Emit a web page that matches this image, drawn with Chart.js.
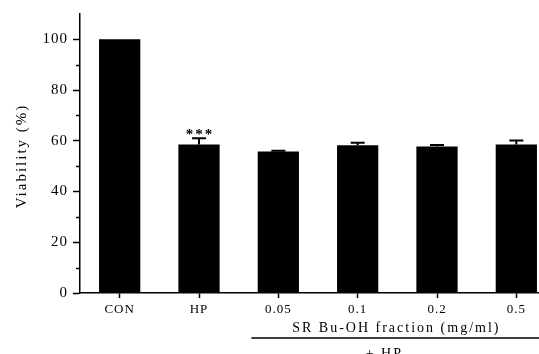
<!DOCTYPE html>
<html>
<head>
<meta charset="utf-8">
<script src="https://cdn.jsdelivr.net/npm/chart.js@4"></script>
<style>
  html, body { margin: 0; padding: 0; background: #fff; overflow: hidden; }
  #wrap { width: 539px; height: 354px; overflow: hidden; }
</style>
</head>
<body>
<div id="wrap"><canvas id="viability" width="560" height="354"></canvas></div>
<script>
// values
var categories = ['CON', 'HP', '0.05', '0.1', '0.2', '0.5'];
var viability = [100, 58.5, 55.8, 58.3, 57.8, 58.5];
var errors = [0, 2.5, 0.3, 0.9, 0.6, 1.6];
var yMajor = [0, 20, 40, 60, 80, 100];
var yMinor = [10, 30, 50, 70, 90];

var serif = '"Liberation Serif", "DejaVu Serif", serif';

// slightly spaced lettering like the scanned figure
var spacing = {
    id: 'spacing',
    beforeDraw: function(chart) {
        chart.ctx.letterSpacing = '1px';
    }
};

// upper whiskers, stars, minor ticks and the bracket text under the axis
var extras = {
    id: 'extras',
    afterDraw: function(chart) {
        var ctx = chart.ctx;
        var x = chart.scales.x;
        var y = chart.scales.y;
        ctx.save();
        ctx.strokeStyle = '#000';
        ctx.fillStyle = '#000';

        // error bars (upper half only)
        ctx.lineWidth = 2;
        for (var i = 0; i < viability.length; i++) {
            if (!errors[i]) continue;
            var cx = x.getPixelForValue(i);
            var top = y.getPixelForValue(viability[i] + errors[i]);
            var base = y.getPixelForValue(viability[i]);
            ctx.beginPath();
            ctx.moveTo(cx, base);
            ctx.lineTo(cx, top);
            ctx.moveTo(cx - 7, top);
            ctx.lineTo(cx + 7, top);
            ctx.stroke();
        }

        // *** over HP
        var hx = x.getPixelForValue(1);
        var hy = y.getPixelForValue(viability[1] + errors[1]);
        ctx.font = 'bold 15px ' + serif;
        ctx.letterSpacing = '2px';
        ctx.textAlign = 'center';
        ctx.textBaseline = 'alphabetic';
        ctx.fillText('***', hx + 1, hy + 1);

        // minor ticks on the y axis
        ctx.lineWidth = 1.5;
        ctx.beginPath();
        yMinor.forEach(function(v) {
            var py = Math.round(y.getPixelForValue(v)) + 0.5;
            ctx.moveTo(x.left, py);
            ctx.lineTo(x.left - 4, py);
        });
        ctx.stroke();

        // y axis title
        ctx.font = '15px ' + serif;
        ctx.letterSpacing = '2px';
        ctx.save();
        ctx.translate(22, 156);
        ctx.rotate(-Math.PI / 2);
        ctx.textBaseline = 'middle';
        ctx.fillText('Viability (%)', 0, 0);
        ctx.restore();

        // treatment bracket under the concentrations
        var x2 = x.getPixelForValue(2);
        var x5 = x.getPixelForValue(5);
        ctx.font = '14px ' + serif;
        ctx.textBaseline = 'middle';
        ctx.fillText('SR Bu-OH fraction (mg/ml)', (x2 + x5) / 2 - 1, y.bottom + 35);
        ctx.lineWidth = 1.3;
        ctx.beginPath();
        ctx.moveTo(x2 - 27, y.bottom + 45);
        ctx.lineTo(chart.width, y.bottom + 45);
        ctx.stroke();
        ctx.fillText('+ HP', (x2 + x5) / 2 - 13, y.bottom + 61);
        ctx.restore();
    }
};

var ctx = document.getElementById('viability').getContext('2d');
var chart = new Chart(ctx, {
    type: 'bar',
    data: {
        labels: categories,
        datasets: [{
            data: viability,
            backgroundColor: '#000',
            borderWidth: 0,
            barPercentage: 0.52,
            categoryPercentage: 1
        }]
    },
    options: {
        responsive: false,
        devicePixelRatio: 1,
        animation: false,
        layout: {
            padding: { top: 13, right: 4, left: 0, bottom: 0 }
        },
        plugins: {
            legend: { display: false },
            tooltip: { enabled: false }
        },
        scales: {
            x: {
                grid: {
                    offset: false,
                    drawOnChartArea: false,
                    tickLength: 5,
                    tickColor: '#000',
                    tickWidth: 1.5
                },
                border: { color: '#000', width: 1.5 },
                ticks: {
                    color: '#000',
                    padding: 4,
                    maxRotation: 0,
                    font: { family: serif, size: 13 }
                },
                afterFit: function(scale) { scale.height = 61; }
            },
            y: {
                min: 0,
                max: 110,
                afterBuildTicks: function(scale) {
                    scale.ticks = yMajor.map(function(v) { return { value: v }; });
                },
                grid: {
                    drawOnChartArea: false,
                    tickLength: 7,
                    tickColor: '#000',
                    tickWidth: 1.5
                },
                border: { color: '#000', width: 1.5 },
                ticks: {
                    color: '#000',
                    padding: 5,
                    font: { family: serif, size: 15 }
                },
                afterFit: function(scale) { scale.width = 80; }
            }
        }
    },
    plugins: [spacing, extras]
});
</script>
</body>
</html>
